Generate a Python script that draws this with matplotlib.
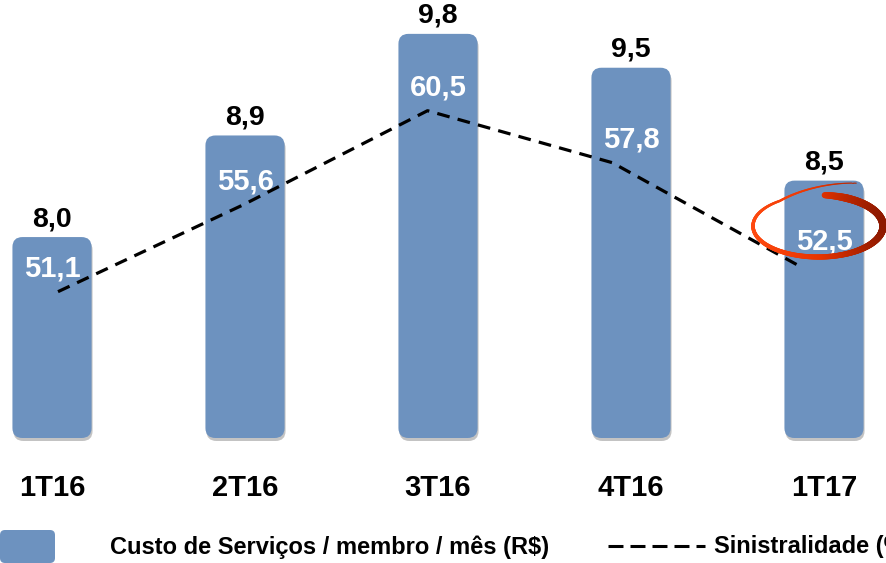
import numpy as np
import matplotlib
matplotlib.use("Agg")
import matplotlib.pyplot as plt
from matplotlib.patches import FancyBboxPatch
from matplotlib.collections import LineCollection
from matplotlib.lines import Line2D
from matplotlib.transforms import Affine2D, blended_transform_factory
from matplotlib.colors import to_rgb

# data
quarters = ["1T16", "2T16", "3T16", "4T16", "1T17"]
custo = [8.0, 8.9, 9.8, 9.5, 8.5]
sinistralidade = [51.1, 55.6, 60.5, 57.8, 52.5]
custo_labels = ["8,0", "8,9", "9,8", "9,5", "8,5"]
sin_labels = ["51,1", "55,6", "60,5", "57,8", "52,5"]
legend_bar = "Custo de Serviços / membro / mês (R$)"
legend_line = "Sinistralidade (%)"

BAR_COLOR = "#6d92bf"
plt.rcParams["font.family"] = ["Liberation Sans", "DejaVu Sans"]

W, H = 886, 563
fig = plt.figure(figsize=(W / 100, H / 100), dpi=100)
fig.patch.set_facecolor("white")

# pixel helper (image coords, y down) -> figure artist transform
pix = Affine2D().scale(1 / 100) + fig.dpi_scale_trans


def py(y):
    return H - y


# bar axes
ax = fig.add_axes([0, (H - 438) / H, 1, 438 / H])
ax.set_xlim(-52 / 193, (W - 52) / 193)
y0, y1 = 6.22, 10.1
ax.set_ylim(y0, y1)
for s in ax.spines.values():
    s.set_visible(False)
ax.set_yticks([])
x = np.arange(len(quarters))
ax.set_xticks(x)
ax.set_xticklabels(quarters, fontsize=21, fontweight="bold")
ax.tick_params(axis="x", length=0, pad=26)
ax.patch.set_alpha(0)

bw = 0.41
r = 10 / 193
asp = (y1 - y0) / 438 * 193  # data-y per px / data-x per px
for xi, v in zip(x, custo):
    left = xi - bw / 2
    h = v - y0
    # soft shadow
    sh = FancyBboxPatch((left + r + 1 / 193, y0 + r * asp - 3 * (y1 - y0) / 438), bw - 2 * r, h - 2 * r * asp,
                        boxstyle=f"round,pad={r},rounding_size={r}", mutation_aspect=asp,
                        fc="#555555", ec="none", alpha=0.35, zorder=1, clip_on=False)
    ax.add_patch(sh)
    p = FancyBboxPatch((left + r, y0 + r * asp), bw - 2 * r, h - 2 * r * asp,
                       boxstyle=f"round,pad={r},rounding_size={r}", mutation_aspect=asp,
                       fc=BAR_COLOR, ec="none", zorder=2, clip_on=False)
    ax.add_patch(p)

for xi, v, lab in zip(x, custo, custo_labels):
    ax.annotate(lab, (xi, v), xytext=(0, 13), textcoords="offset points",
                ha="center", va="center", fontsize=20.5, fontweight="bold", color="black")

# line axes (separate overlay)
ax2 = fig.add_axes([0, (H - 438) / H, 1, 438 / H])
ax2.set_xlim(-58 / 184.75, (W - 58) / 184.75)
ax2.set_ylim(43.5, 66.25)
ax2.axis("off")
ax2.patch.set_alpha(0)
ax2.plot(x, sinistralidade, color="black", lw=2.3, dashes=(4, 2.6), zorder=3)

tr = blended_transform_factory(ax.transData, ax2.transData)
for xi, v, lab in zip(x, sinistralidade, sin_labels):
    ax2.annotate(lab, (xi, v), xycoords=tr, xytext=(0, 17), textcoords="offset points",
                 ha="center", va="center", fontsize=21, fontweight="bold", color="white", zorder=4)

# red hand-drawn ellipse around last value
cx, cy, a, b = 818, 226, 65, 31
t = np.radians(np.linspace(84, -300, 400))
ex = cx + a * np.cos(t)
ey = cy - b * np.sin(t)
tail = np.clip((np.radians(-234) - t) / np.radians(66), 0, 1)
ey = ey - 16 * tail
ex = ex + 6 * tail
pts = np.column_stack([ex, py(ey)])
segs = np.stack([pts[:-1], pts[1:]], axis=1)
frac = np.linspace(0, 1, len(segs))
widths = np.interp(frac, [0, 0.05, 0.2, 0.4, 0.6, 0.75, 1.0], [4.5, 5.5, 5.5, 4.0, 3.0, 2.2, 0.6])
dark = np.array(to_rgb("#8a1800"))
mid = np.array(to_rgb("#e83400"))
light = np.array(to_rgb("#ff4a10"))
xn = (segs[:, 0, 0] - 750) / 135
cols = [tuple(mid * (2 - 2 * k) + dark * (2 * k - 1)) if k > 0.5 else tuple(light * (1 - 2 * k) + mid * 2 * k)
        for k in np.clip(xn, 0, 1)]
lc = LineCollection(segs, colors=cols, linewidths=widths, capstyle="round", transform=pix, zorder=5)
fig.add_artist(lc)

# legend (manual)
leg_box = FancyBboxPatch((3, py(560)), 49, 27, boxstyle="round,pad=3,rounding_size=5",
                         fc=BAR_COLOR, ec="none", transform=pix)
fig.add_artist(leg_box)
fig.text(110 / W, py(547) / H, legend_bar, fontsize=17, fontweight="bold", va="center", ha="left")
fig.add_artist(Line2D([608, 705], [py(546), py(546)], color="black", lw=2.2, dashes=(4.9, 2.3),
                      transform=pix))
fig.text(714 / W, py(547) / H, legend_line, fontsize=17, fontweight="bold", va="center", ha="left")

fig.savefig("out.png", dpi=100)
